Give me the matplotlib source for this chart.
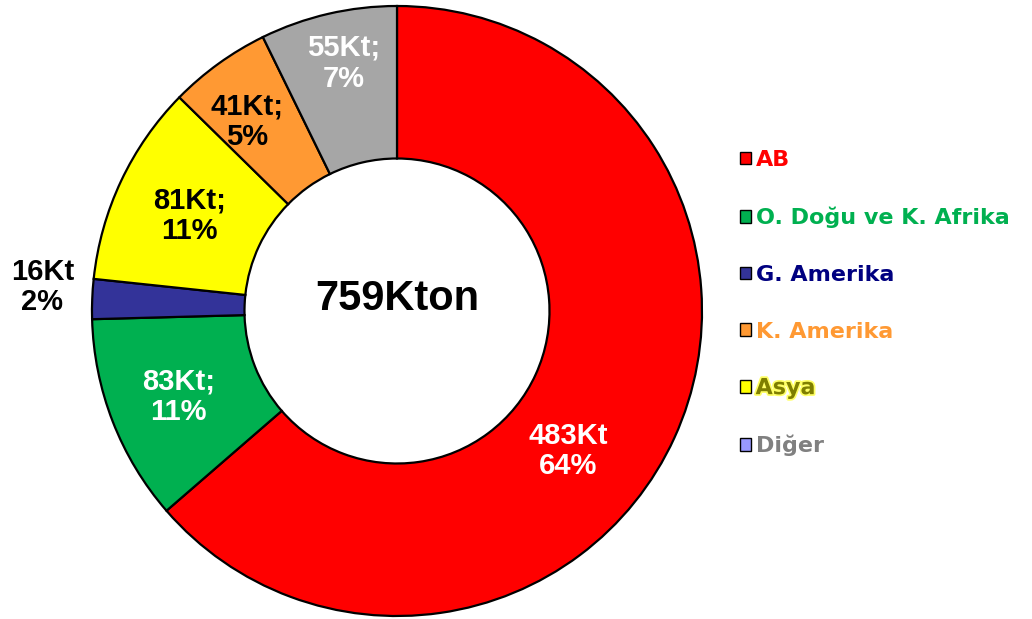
import matplotlib
matplotlib.use("Agg")
import matplotlib.pyplot as plt
import matplotlib.patheffects as pe
from matplotlib.patches import Patch
import numpy as np

# data (clockwise from the top)
regions = ['AB', 'O. Doğu ve K. Afrika', 'G. Amerika', 'Asya', 'K. Amerika', 'Diğer']
kton = [483, 83, 16, 81, 41, 55]
pct_labels = ['483Kt\n64%', '83Kt;\n11%', '16Kt\n2%', '81Kt;\n11%', '41Kt;\n5%', '55Kt;\n7%']
total_label = '759Kton'

# legend order is different from the slice order
legend_order = ['AB', 'O. Doğu ve K. Afrika', 'G. Amerika', 'K. Amerika', 'Asya', 'Diğer']

wedge_colors = {'AB': '#FF0000', 'O. Doğu ve K. Afrika': '#00B050', 'G. Amerika': '#333399',
                'Asya': '#FFFF00', 'K. Amerika': '#FF9933', 'Diğer': '#A6A6A6'}
marker_colors = dict(wedge_colors, **{'Diğer': '#9999FF'})
text_colors = {'AB': '#FF0000', 'O. Doğu ve K. Afrika': '#00B050', 'G. Amerika': '#000080',
               'Asya': '#7F7F00', 'K. Amerika': '#FF9933', 'Diğer': '#808080'}
label_colors = ['white', 'white', 'black', 'black', 'black', 'white']
# label distance (fraction of radius) and small nudges in pixels
label_dist = [0.75, 0.75, 1.17, 0.75, 0.75, 0.78]
label_nudge = [(-37, -45), (-5, -3), (2, 10), (-1, -2), (-16, 4), (0, 16)]

plt.rcParams['font.family'] = ['Liberation Sans', 'DejaVu Sans']

W, H = 1032, 619
fig = plt.figure(figsize=(W / 100, H / 100), dpi=100)
ax = fig.add_axes([0, 0, 1, 1])

cx, cy, R = 397, H - 311, 305
wedges, _ = ax.pie(kton, colors=[wedge_colors[r] for r in regions], startangle=90,
                   counterclock=False, radius=R, center=(cx, cy), frame=True,
                   wedgeprops=dict(width=R * 0.5, edgecolor='black', linewidth=1.6))

for w, lab, col, d, (nx, ny) in zip(wedges, pct_labels, label_colors, label_dist, label_nudge):
    ang = np.deg2rad((w.theta1 + w.theta2) / 2)
    x = cx + d * R * np.cos(ang) + nx
    y = cy + d * R * np.sin(ang) + ny
    ax.text(x, y, lab, ha='center', va='center', fontsize=21, fontweight='bold',
            color=col, linespacing=1.12)

ax.text(cx, cy + 12, total_label, ha='center', va='center', fontsize=30, fontweight='bold')

handles = [Patch(facecolor=marker_colors[r], edgecolor='black', linewidth=1.0) for r in legend_order]
leg = ax.legend(handles, legend_order, loc='upper left', bbox_to_anchor=(740 / W, 1 - 150 / H),
                frameon=False, borderpad=0, borderaxespad=0, handlelength=0.5, handleheight=0.5,
                handletextpad=0.2, labelspacing=1.65,
                prop=dict(family='DejaVu Sans', size=16, weight='bold'))
for t, r in zip(leg.get_texts(), legend_order):
    t.set_color(text_colors[r])
    if r == 'Asya':
        t.set_path_effects([pe.withStroke(linewidth=2.5, foreground='#FFFF66')])

ax.set_xlim(0, W)
ax.set_ylim(0, H)
ax.set_aspect('equal')
ax.axis('off')

fig.savefig('out.png', dpi=100)
